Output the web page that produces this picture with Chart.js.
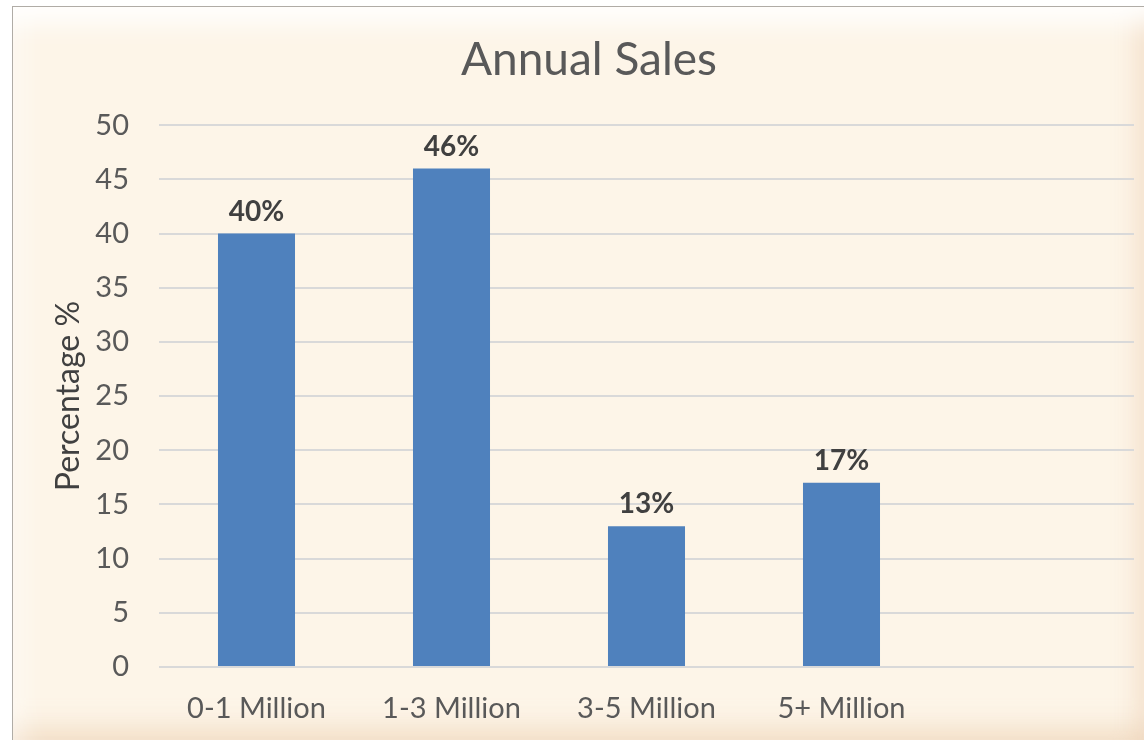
<!DOCTYPE html>
<html>
<head>
<meta charset="utf-8">
<script src="https://cdn.jsdelivr.net/npm/chart.js@4"></script>
<style>
  body { margin: 0; background: #ffffff; }
  #frame {
    position: absolute; left: 12px; top: 6px; width: 1132px; height: 734px;
    background: #fdf5e8;
    border-left: 1px solid #b0aca6; border-top: 1px solid #b0aca6;
    box-shadow: inset 0 34px 26px -18px rgba(255,255,255,0.95),
                inset 30px 0 26px -20px rgba(255,255,255,0.5),
                inset -26px 0 22px -16px rgba(235,205,175,0.45),
                inset 0 -30px 24px -16px rgba(235,205,175,0.55);
  }
  #frame canvas { position: absolute; left: 0; top: 0; }
</style>
</head>
<body>
<div id="frame"><canvas id="myChart" width="1132" height="734"></canvas></div>
<script>
const categories = ["0-1 Million", "1-3 Million", "3-5 Million", "5+ Million", ""];
const salesShare = [40, 46, 13, 17, null];
const shareLabels = ["40%", "46%", "13%", "17%", ""];
const yTicks = [0, 50, 5];

const ctx = document.querySelector("#myChart");
const font = "Lato, 'Open Sans', sans-serif";

// percentage labels above each bar
const barLabels = {
  id: "barLabels",
  afterDatasetsDraw(chart) {
    const c = chart.ctx;
    const meta = chart.getDatasetMeta(0);
    c.save();
    c.fillStyle = "#404040";
    c.font = "bold 28px " + font;
    c.textAlign = "center";
    c.textBaseline = "bottom";
    meta.data.forEach((bar, i) => {
      if (salesShare[i] == null) return;
      c.fillText(shareLabels[i], bar.x, bar.y - 8);
    });
    c.restore();
  },
};

const data = {
  labels: categories,
  datasets: [
    {
      label: "Annual Sales",
      backgroundColor: "#4f81bd",
      data: salesShare,
      categoryPercentage: 1,
      barPercentage: 0.395,
    },
  ],
};

const config = {
  type: "bar",
  data,
  options: {
    responsive: false,
    animation: false,
    layout: { padding: { top: 0, right: 11, bottom: 0, left: 31 } },
    plugins: {
      legend: { display: false },
      tooltip: { enabled: false },
      title: {
        display: true,
        text: "Annual Sales",
        color: "#595959",
        font: { family: font, size: 46, weight: "normal" },
        padding: { top: 26, bottom: 37 },
      },
    },
    scales: {
      x: {
        grid: { display: false },
        border: { display: false },
        ticks: { color: "#595959", font: { family: font, size: 29 }, padding: 16 },
        afterFit: (scale) => { scale.height = 74; },
      },
      y: {
        min: yTicks[0],
        max: yTicks[1],
        ticks: { stepSize: yTicks[2], color: "#595959", font: { family: font, size: 29 }, padding: 30 },
        grid: { color: "#d9d9d9", lineWidth: 2, drawTicks: false },
        border: { display: false },
        title: {
          display: true,
          text: "Percentage %",
          color: "#404040",
          font: { family: font, size: 32 },
          padding: { top: 5, bottom: 0 },
        },
        afterFit: (scale) => { scale.width = 115; },
      },
    },
  },
  plugins: [barLabels],
};

let myChart = new Chart(ctx, config);
</script>
</body>
</html>
